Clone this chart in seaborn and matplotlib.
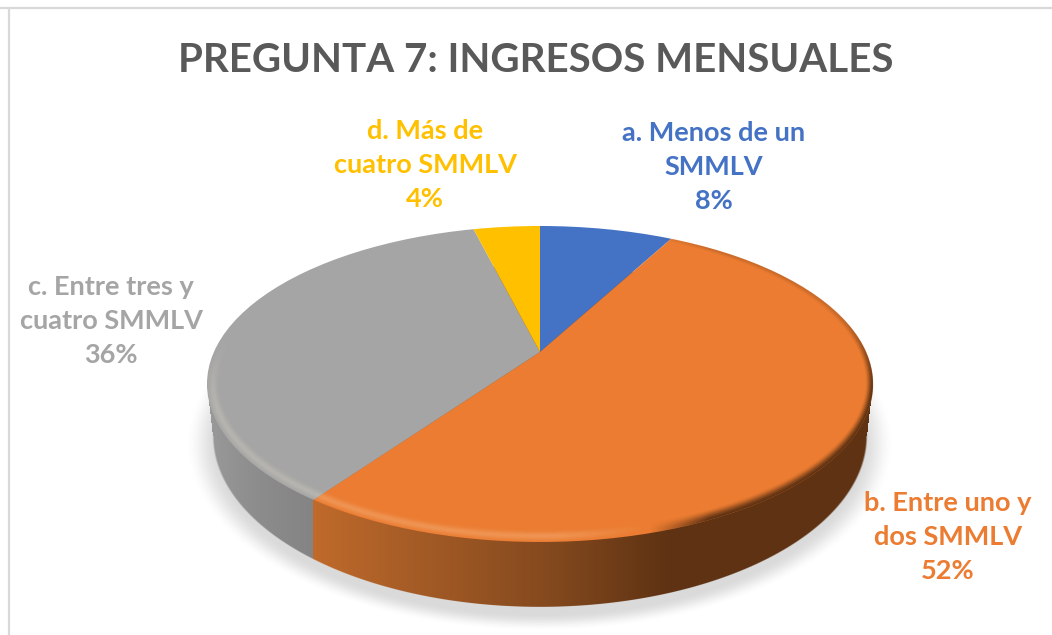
import numpy as np
import matplotlib
matplotlib.use("Agg")
import matplotlib.pyplot as plt
from matplotlib.colors import to_rgb
from matplotlib.patches import Ellipse
import seaborn as sns

title = "PREGUNTA 7: INGRESOS MENSUALES"
categories = ["a. Menos de un\nSMMLV", "b. Entre uno y\ndos SMMLV",
              "c. Entre tres y\ncuatro SMMLV", "d. Más de\ncuatro SMMLV"]
values = [8, 52, 36, 4]
colors = ["#4472C4", "#EB7C31", "#A5A5A5", "#FFC000"]
label_pos = [(714, 167), (948, 537), (111, 321), (425, 165)]

W, H = 1052, 635
# pie centre and size on the canvas, in pixels
CX, CY = 540, 352
A, B = 333, 158       # top ellipse radii
TOP_Y = 384           # the ellipse sits lower than the slice apex (perspective)
A2, B2, Y2 = 327, 171, 436   # bottom ellipse


def to_x(px):
    return (px - CX) / A


def to_y(py):
    return (CY - py) / B


def smooth(a, b, v):
    t = np.clip((v - a) / (b - a), 0, 1)
    return t * t * (3 - 2 * t)


sns.set_theme(style="white")
plt.rcParams["font.family"] = ["Lato", "DejaVu Sans"]

fig = plt.figure(figsize=(W / 100, H / 100), dpi=100)
ax = fig.add_axes([0, 0, 1, 1])
extent = (to_x(0), to_x(W), to_y(H), to_y(0))

px, py = np.meshgrid(np.arange(W) + 0.5, np.arange(H) + 0.5)


def radius(a, b, yc, xc=CX):
    return np.sqrt(((px - xc) / a) ** 2 + ((py - yc) / b) ** 2)


# soft shadow under the disc
r_sh = radius(A2 + 4, B2 + 4, Y2 + 8)
shadow = np.zeros((H, W, 4))
shadow[..., :3] = 0.55
shadow[..., 3] = 0.32 * (1 - smooth(0.97, 1.07, r_sh))
ax.imshow(shadow, extent=extent, aspect="auto", zorder=1)

# side wall, coloured left to right
angle = np.cumsum(values)[1] / np.sum(values) * 2 * np.pi
dx, dy = np.sin(angle) * A, np.cos(angle) * B
xb = float(CX)
for _ in range(400):
    # walk along the slice border until it meets the top ellipse
    yb = CY - dy * (xb - CX) / dx
    if ((xb - CX) / A) ** 2 + ((yb - TOP_Y) / B) ** 2 < 1:
        xb -= 1
    else:
        break

r_low = radius(A2, B2, Y2)
in_band = (py > TOP_Y) & (py < Y2) & (np.abs(px - CX) < A - (A - A2) * (py - TOP_Y) / (Y2 - TOP_Y))
side_alpha = np.maximum(1 - smooth(0.995, 1.003, r_low), in_band.astype(float))
orange_x = [xb, 400, 550, 670, 880]
orange_c = np.array([to_rgb(c) for c in ["#C06A2B", "#A95E27", "#84491E", "#5E3213", "#5E3213"]])
grey_x = [205, 260, xb]
grey_c = np.array([to_rgb(c) for c in ["#9A9A9A", "#8C8C8C", "#848484"]])
side = np.zeros((H, W, 4))
for i in range(3):
    o = np.interp(px, orange_x, orange_c[:, i])
    g = np.interp(px, grey_x, grey_c[:, i])
    side[..., i] = np.where(px < xb, g, o)
side[..., 3] = side_alpha
ax.imshow(side, extent=extent, aspect="auto", zorder=2)

# top surface: slices clipped to the ellipse
wedges, _ = ax.pie(values, colors=colors, startangle=90, counterclock=False, radius=3,
                   wedgeprops={"linewidth": 0})
top = Ellipse((0, to_y(TOP_Y)), 2, 2, transform=ax.transData)
for w in wedges:
    w.set_clip_on(True)
    w.set_clip_path(top)
    w.set_zorder(3)

# bevel along the rim: light on the left and front, dark on the right
X = (px - CX) / A
Y = (py - TOP_Y) / B
r = np.sqrt(X ** 2 + Y ** 2) + 1e-6
grad = np.sqrt((X / A) ** 2 + (Y / B) ** 2) / r
dist = (1 - r) / (grad + 1e-9)
inside = 1 - smooth(-0.8, 0.8, -dist)
light = np.clip((650 - px) / 90, 0, 1) * smooth(-0.35, 0.2, Y)
dark = np.clip((px - 650) / 60, 0, 1) * (0.25 + 0.75 * smooth(-0.5, 0.1, Y))
glow = np.exp(-((dist - 6) / 4.0) ** 2)
rim = np.zeros((H, W, 4))
rim_dark = np.array(to_rgb("#5E3213"))
rim_light = np.array([1.0, 0.95, 0.85])
a_light = 0.2 * light * glow
a_dark = dark * (1 - smooth(0, 4 + 8 * 0.5 * (1 + np.clip(Y, -1, 1)), dist))
for i in range(3):
    rim[..., i] = (rim_light[i] * a_light + rim_dark[i] * a_dark) / (a_light + a_dark + 1e-6)
rim[..., 3] = np.clip(a_light + a_dark, 0, 1) * inside
ax.imshow(rim, extent=extent, aspect="auto", zorder=4)

# chart frame, only top and left are visible
ax.plot([to_x(0), to_x(W)], [to_y(8), to_y(8)], color="#D9D9D9", lw=1.6, zorder=5)
ax.plot([to_x(9), to_x(9)], [to_y(8), to_y(H)], color="#D9D9D9", lw=1.6, zorder=5)

ax.text(to_x(536), to_y(61), title, ha="center", va="center", fontsize=29,
        fontweight="bold", color="#595959", zorder=6)

for cat, val, col, (lx, ly) in zip(categories, values, colors, label_pos):
    ax.text(to_x(lx), to_y(ly), f"{cat}\n{val}%", ha="center", va="center", fontsize=19.5,
            fontweight="bold", color=col, linespacing=1.5, zorder=6)

ax.set_aspect("auto")
ax.set_xlim(to_x(0), to_x(W))
ax.set_ylim(to_y(H), to_y(0))
ax.axis("off")

fig.savefig("out.png", dpi=100, facecolor="white")
